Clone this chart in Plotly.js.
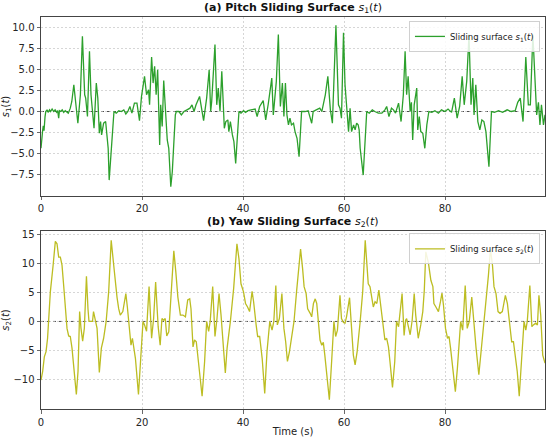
<!DOCTYPE html>
<html><head><meta charset="utf-8">
<script src="https://cdn.plot.ly/plotly-3.0.1.min.js"></script>
<style>html,body{margin:0;padding:0;background:#fff}#c{width:550px;height:437px}</style>
</head><body><div id="c"></div>
<script>
const t1 = [0,0.15,0.3,0.45,0.6,0.8,0.95,1.2,1.4,1.7,1.9,2.2,2.5,2.8,3.1,3.3,3.5,3.65,3.9,4.2,4.5,4.8,5.1,5.4,5.8,6.1,6.5,6.9,7.3,7.8,8.2,8.65,8.85,9.2,9.6,9.9,10.1,10.5,10.95,11.25,11.55,11.8,12.0,12.4,12.8,13.1,13.3,13.5,14.0,14.45,14.9,15.4,15.9,16.4,16.8,17.2,17.6,18.0,18.5,19.0,19.5,19.9,20.5,20.9,21.3,21.5,21.9,22.2,22.5,22.8,23.1,23.5,23.7,24.0,24.3,24.6,24.8,25.0,25.3,25.7,26.0,26.3,26.6,26.8,27.3,27.8,28.3,28.9,29.5,29.9,30.3,30.7,31.4,32.2,32.8,33.3,33.6,33.8,34.1,34.45,34.8,35.1,35.45,35.8,36.1,36.3,36.6,37.0,37.2,37.5,37.9,38.2,38.55,38.9,39.2,39.6,40.1,40.5,41.0,41.6,42.4,42.8,43.3,44.0,44.5,45.0,45.7,46.0,46.35,46.6,47.0,47.4,47.8,48.1,48.4,48.7,49.0,49.3,49.6,50.0,50.3,50.7,51.1,51.6,52.3,52.9,53.6,53.9,54.5,55.2,55.6,56.3,56.8,57.3,57.7,58.4,58.9,59.2,59.5,59.9,60.2,60.6,60.9,61.2,61.5,61.9,62.2,62.5,62.8,63.0,63.2,63.8,64.2,64.5,65.0,65.6,66.1,66.8,67.5,68.1,68.45,68.9,69.4,69.8,70.2,70.8,71.3,71.75,72.1,72.4,72.7,73.1,73.35,73.6,73.9,74.4,74.6,74.9,75.2,75.6,76.0,76.4,76.8,77.4,78.0,78.7,79.3,80.0,80.6,81.3,81.85,82.4,82.9,83.4,83.8,84.3,84.75,85.15,85.5,85.75,86.1,86.5,86.9,87.3,87.7,88.1,88.7,89.2,89.8,90.6,91.4,92.3,93.1,93.9,94.4,94.9,95.45,96.0,96.5,96.9,97.4,97.8,98.15,98.5,98.8,99.1,99.5,99.8];
const s1 = [-4.4,-3.0,-2.4,-1.7,-2.3,-0.6,0.0,0.2,-0.1,0.2,0.0,0.3,0.0,0.2,-0.1,0.1,-0.8,0.1,0.0,0.2,-0.1,0.1,0.0,-0.2,0.4,1.2,3.2,0.8,-1.4,2.0,9.0,2.0,1.6,-0.6,7.2,2.0,0.4,-2.0,3.4,1.6,-2.6,-1.2,-2.8,-1.4,-1.2,-2.8,-4.4,-8.2,-3.6,0.0,-0.2,0.1,0.0,0.2,-0.3,0.0,0.6,-0.2,1.0,1.0,-1.1,1.8,4.2,2.0,2.6,0.8,6.5,3.4,5.4,2.0,5.0,-4.0,0.8,-1.8,3.7,0.0,-1.6,-3.4,-4.4,-9.0,-7.2,-3.6,-0.4,0.0,0.0,-0.4,0.0,0.2,0.4,0.8,0.0,0.8,1.8,-1.1,1.6,5.0,0.0,1.2,3.8,8.0,0.8,2.8,0.0,4.8,0.8,-2.0,-1.2,-1.0,-2.4,-1.2,-2.8,-3.6,-6.2,-3.2,0.0,-0.2,0.1,-0.1,0.1,0.2,0.3,-0.6,0.6,1.3,-1.0,0.9,4.0,-0.4,2.6,3.6,9.2,0.6,3.4,-0.6,3.4,-0.4,-1.6,-0.8,-1.6,-1.4,-2.4,-3.2,-5.4,0.0,0.0,0.1,-1.4,0.0,0.2,0.4,0.0,2.0,4.2,0.2,-1.4,10.3,0.8,0.4,-0.8,9.4,3.2,0.0,-2.4,0.4,-2.4,-1.6,-2.2,-1.4,-1.6,-2.2,-4.4,-7.6,-3.6,0.0,-0.2,0.2,0.0,-0.2,-0.2,0.2,0.6,-0.6,0.4,0.2,-0.2,1.0,-1.2,2.0,7.2,2.0,4.2,0.0,1.1,-3.4,0.8,2.8,-2.2,-0.6,-2.4,-2.6,-4.4,-1.6,0.0,-0.1,0.1,-0.2,0.2,0.0,0.3,-0.1,1.6,-0.8,0.6,4.2,0.8,3.6,9.2,0.8,4.0,-0.4,3.2,-1.2,-2.2,-1.0,-1.2,-2.4,-6.6,0.0,-0.1,0.1,-0.1,0.2,0.0,0.1,1.1,1.6,-1.2,6.5,0.8,0.8,9.2,4.0,-0.4,1.1,-1.6,0.8,-1.6,-0.4];
const t2 = [0,0.33,0.66,1.0,1.3,1.85,2.4,2.84,3.17,3.5,3.83,4.16,4.49,4.82,5.15,5.48,5.8,6.14,6.47,7.0,7.33,7.65,7.92,8.25,8.58,9.0,9.3,9.5,9.9,10.2,10.4,10.76,11.1,11.55,11.95,12.4,12.9,13.4,13.9,14.4,14.72,15.05,15.38,15.7,16.2,16.8,17.1,17.4,17.82,18.1,18.7,19.3,19.8,20.2,20.5,20.9,21.4,21.9,22.3,22.7,23.2,23.6,23.95,24.3,24.6,24.9,25.3,25.75,26.3,26.7,27.1,27.6,28.1,28.6,29.05,29.45,29.7,30.1,30.4,30.75,31.3,31.9,32.4,32.8,33.2,33.5,34.0,34.45,34.85,35.25,35.65,36.05,36.5,36.85,37.5,38.15,38.8,39.2,39.6,40.1,40.5,40.9,41.3,41.8,42.1,42.6,42.9,43.3,43.8,44.3,44.75,45.3,45.75,46.1,46.5,46.8,47.2,47.7,48.1,48.45,48.8,49.2,49.6,50.1,50.6,50.95,51.4,51.8,52.1,52.5,52.8,53.3,53.6,53.95,54.3,54.6,54.9,55.25,55.6,55.9,56.2,56.6,57.1,57.55,58.0,58.35,58.7,59.2,59.5,59.9,60.2,60.5,61.1,61.5,61.85,62.2,62.6,63.2,63.7,64.2,64.5,64.8,65.15,65.5,65.8,66.15,66.5,66.9,67.3,67.65,68.1,68.45,68.8,69.1,69.6,70.05,70.4,70.8,71.1,71.5,71.9,72.2,72.4,72.75,73.1,73.5,73.9,74.2,74.7,75.2,75.6,75.9,76.2,76.7,77.2,77.6,77.8,78.2,78.7,79.1,79.4,79.7,80.1,80.5,80.8,81.1,81.5,82.05,82.45,82.85,83.1,83.5,84.0,84.4,84.8,85.3,85.75,86.15,86.7,87.15,87.6,88.1,88.6,89.0,89.4,89.7,90.1,90.5,90.9,91.35,91.95,92.35,92.75,93.2,93.55,93.9,94.3,94.7,95.2,95.65,96.0,96.3,96.8,97.2,97.5,97.95,98.3,98.6,98.95,99.35,99.8];
const s2 = [-10.1,-8.6,-6.1,-5.2,-2.9,5.1,9.7,13.8,13.4,11.1,11.1,9.7,6.2,2.2,-1.2,-2.5,-2.6,-4.6,-8.1,-12.6,-8.6,1.7,-1.2,-3.4,-1.2,7.8,2.2,0.0,0.0,0.0,1.7,0.3,-1.2,-8.8,-4.6,-2.9,0.0,5.1,14.0,9.7,6.2,4.2,2.2,1.1,1.7,4.8,2.5,-0.6,-4.1,-2.9,-6.4,-12.6,-5.8,0.0,-0.6,-1.7,6.0,-2.9,0.5,6.8,-0.9,-4.1,0.5,0.2,0.5,-2.5,-1.8,4.0,12.2,8.5,4.2,1.1,1.1,0.8,3.7,3.9,2.2,-4.4,-3.2,-3.5,-8.1,-12.9,-6.9,0.0,-1.7,0.0,6.0,-2.6,0.5,4.8,1.1,-3.5,-8.9,-4.6,0.0,5.7,13.4,10.8,6.5,5.1,3.1,2.5,1.7,5.2,3.4,-0.6,-2.6,-2.6,-6.4,-12.4,-5.2,0.0,-1.5,0.0,6.2,-0.6,0.5,4.8,-1.2,-3.5,-6.9,-5.2,-2.9,0.0,5.1,8.0,12.5,9.1,6.0,4.8,2.2,1.4,0.8,3.1,3.9,3.1,0.0,-3.2,-4.1,-3.6,-5.8,-9.2,-13.5,-6.9,0.0,-2.6,-1.5,4.5,0.5,-0.2,-0.3,0.8,4.1,-1.2,-5.8,-7.5,-5.2,0.0,5.1,14.0,9.7,6.5,6.0,4.2,2.5,3.4,3.1,5.4,2.5,0.5,-3.2,-2.9,-4.4,-6.9,-11.4,-6.9,0.0,-0.9,1.7,4.8,-2.4,0.2,0.5,-0.9,-2.3,0.2,4.8,1.1,-2.9,-0.6,1.7,5.4,12.0,10.2,7.1,6.0,3.1,2.5,1.7,3.4,4.9,2.8,-1.2,-2.9,-2.6,-4.6,-8.1,-12.1,-8.1,-3.5,0.0,-1.5,6.2,-1.2,0.0,4.2,-1.2,-4.6,-9.2,-5.2,-1.8,3.1,8.0,12.5,9.7,6.0,4.8,1.7,1.4,1.7,4.5,3.1,0.0,-3.5,-3.5,-5.8,-8.6,-12.9,-6.9,0.0,-1.5,0.1,6.2,-0.9,-0.6,-0.3,-0.6,4.5,1.1,-5.8,-7.2];
const xTicks = [0,20,40,60,80];
const y1Ticks = [-7.5,-5.0,-2.5,0.0,2.5,5.0,7.5,10.0];
const y1Labels = ['−7.5','−5.0','−2.5','0.0','2.5','5.0','7.5','10.0'];
const y2Ticks = [-10,-5,0,5,10,15];
const y2Labels = ['−10','−5','0','5','10','15'];

const F = 'DejaVu Sans, sans-serif';
const axCommon = {
  showline:true, mirror:true, linecolor:'#444', linewidth:1,
  ticks:'outside', ticklen:3.5, tickwidth:0.8, tickcolor:'#444',
  showgrid:true, gridcolor:'#c4c4c4', gridwidth:0.7, griddash:'2px,2px',
  zeroline:false, tickfont:{family:F, size:10, color:'#262626'}
};
const traces = [
  {x:t1, y:s1, type:'scatter', mode:'lines', name:'Sliding surface <i>s</i><sub>1</sub>(<i>t</i>)',
   line:{color:'#2ca02c', width:1.3}, xaxis:'x', yaxis:'y', legend:'legend'},
  {x:t2, y:s2, type:'scatter', mode:'lines', name:'Sliding surface <i>s</i><sub>2</sub>(<i>t</i>)',
   line:{color:'#bcbd22', width:1.3}, xaxis:'x2', yaxis:'y2', legend:'legend2'}
];
const legBase = {font:{family:F, size:8.5, color:'#222'}, bgcolor:'rgba(255,255,255,0.85)',
  bordercolor:'#d0d0d0', borderwidth:1, xanchor:'right', yanchor:'top', x:0.99, tracegroupgap:0,
  itemwidth:30};
const layout = {
  width:550, height:437, paper_bgcolor:'#fff', plot_bgcolor:'#fff',
  margin:{l:41, r:5, t:17, b:28},
  showlegend:true,
  xaxis: Object.assign({}, axCommon, {domain:[0,1], range:[0,99.8], tickvals:xTicks, anchor:'y'}),
  yaxis: Object.assign({}, axCommon, {domain:[0.5434,1], range:[-10.1,11.3], tickvals:y1Ticks, ticktext:y1Labels, anchor:'x',
    title:{text:'<i>s</i><sub>1</sub>(<i>t</i>)', font:{family:F, size:10, color:'#222'}, standoff:2}}),
  xaxis2: Object.assign({}, axCommon, {domain:[0,1], range:[0,99.8], tickvals:xTicks, anchor:'y2',
    title:{text:'Time (s)', font:{family:F, size:10, color:'#222'}, standoff:2}}),
  yaxis2: Object.assign({}, axCommon, {domain:[0,0.4541], range:[-15.1,15.6], tickvals:y2Ticks, ticktext:y2Labels, anchor:'x2',
    title:{text:'<i>s</i><sub>2</sub>(<i>t</i>)', font:{family:F, size:10, color:'#222'}, standoff:6}}),
  legend: Object.assign({}, legBase, {y:0.99}),
  legend2: Object.assign({}, legBase, {y:0.4481}),
  shapes:[
    {type:'line', xref:'x domain', yref:'y', x0:0, x1:1, y0:0, y1:0, line:{color:'rgba(0,0,0,0.7)', width:1, dash:'dot'}, layer:'below'},
    {type:'line', xref:'x2 domain', yref:'y2', x0:0, x1:1, y0:0, y1:0, line:{color:'rgba(0,0,0,0.7)', width:1, dash:'dot'}, layer:'below'}
  ],
  annotations:[
    {text:'<b>(a) Pitch Sliding Surface </b><i>s</i><sub>1</sub>(<i>t</i>)', xref:'paper', yref:'paper', x:0.5, y:1, yshift:0,
     xanchor:'center', yanchor:'bottom', showarrow:false, font:{family:F, size:11, color:'#111'}},
    {text:'<b>(b) Yaw Sliding Surface </b><i>s</i><sub>2</sub>(<i>t</i>)', xref:'paper', yref:'paper', x:0.5, y:0.4541, yshift:0,
     xanchor:'center', yanchor:'bottom', showarrow:false, font:{family:F, size:11, color:'#111'}}
  ]
};
Plotly.newPlot('c', traces, layout, {displayModeBar:false, staticPlot:true});
</script></body></html>
